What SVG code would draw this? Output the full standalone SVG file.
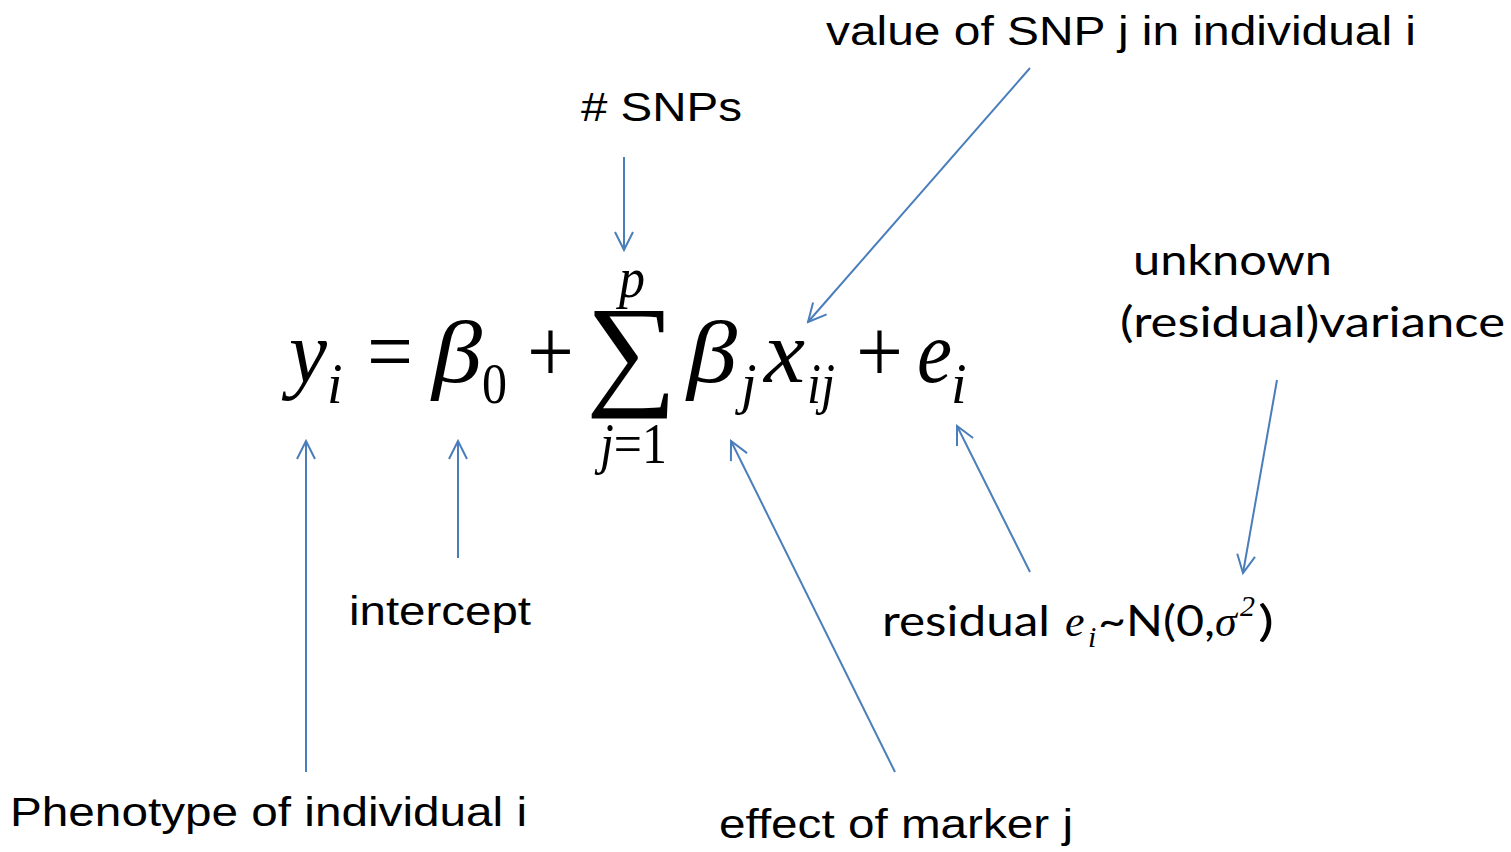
<svg xmlns="http://www.w3.org/2000/svg" width="1511" height="852" viewBox="0 0 1511 852">
<style>
.lbl{font-family:"Liberation Sans",Arial,sans-serif;font-size:40px;fill:#000}
.cal{font-family:Lato,"Open Sans",sans-serif;font-size:42px;fill:#000}
.m{font-family:"Liberation Serif","Times New Roman",serif;font-style:italic;fill:#000}
.u{font-family:"Liberation Serif","Times New Roman",serif;font-style:normal;fill:#000}
.conn line{stroke:#4a7ebb;stroke-width:2;fill:none;marker-end:url(#ah)}
</style>
<defs>
<marker id="ah" markerUnits="userSpaceOnUse" markerWidth="24" markerHeight="24" viewBox="-22 -12 24 24" refX="0" refY="0" orient="auto">
<path d="M-18,-9 L0,0 L-18,9" fill="none" stroke="#4a7ebb" stroke-width="2"/>
</marker>
</defs>
<rect width="1511" height="852" fill="#fff"/>
<g id="equation">
<text class="m" x="289" y="382" font-size="88" textLength="38" lengthAdjust="spacingAndGlyphs">y</text>
<text class="m" x="327" y="403" font-size="56">i</text>
<text class="u" x="367" y="382" font-size="90" textLength="46" lengthAdjust="spacingAndGlyphs">=</text>
<text class="m" x="432" y="382" font-size="88" textLength="50" lengthAdjust="spacingAndGlyphs">β</text>
<text class="u" x="482" y="403" font-size="56" textLength="25" lengthAdjust="spacingAndGlyphs">0</text>
<text class="u" x="527" y="382" font-size="90" textLength="47" lengthAdjust="spacingAndGlyphs">+</text>
<text class="u" x="586" y="392" font-size="124" textLength="91" lengthAdjust="spacingAndGlyphs">∑</text>
<text class="m" x="619" y="297" font-size="56" textLength="26" lengthAdjust="spacingAndGlyphs">p</text>
<text x="600" y="463" font-size="56" textLength="67" lengthAdjust="spacingAndGlyphs"><tspan class="m">j</tspan><tspan class="u">=1</tspan></text>
<text class="m" x="687" y="382" font-size="88" textLength="50" lengthAdjust="spacingAndGlyphs">β</text>
<text class="m" x="741" y="403" font-size="56">j</text>
<text class="m" x="764" y="382" font-size="88" textLength="41" lengthAdjust="spacingAndGlyphs">x</text>
<text class="m" x="807" y="403" font-size="56" textLength="28" lengthAdjust="spacingAndGlyphs">ij</text>
<text class="u" x="856" y="382" font-size="90" textLength="47" lengthAdjust="spacingAndGlyphs">+</text>
<text class="m" x="917" y="382" font-size="88" textLength="35" lengthAdjust="spacingAndGlyphs">e</text>
<text class="m" x="951" y="403" font-size="56">i</text>
</g>
<g id="n-snps"><text class="lbl" x="581" y="121" textLength="161" lengthAdjust="spacingAndGlyphs"># SNPs</text></g>
<g id="n-value"><text class="lbl" x="826" y="45" textLength="590" lengthAdjust="spacingAndGlyphs">value of SNP j in individual i</text></g>
<g id="n-phenotype"><text class="lbl" x="10" y="826" textLength="517" lengthAdjust="spacingAndGlyphs">Phenotype of individual i</text></g>
<g id="n-intercept"><text class="lbl" x="349" y="625" textLength="182" lengthAdjust="spacingAndGlyphs">intercept</text></g>
<g id="n-effect"><text class="lbl" x="719" y="838" textLength="354" lengthAdjust="spacingAndGlyphs">effect of marker j</text></g>
<g id="n-variance">
<text class="cal" x="1133" y="275" textLength="199" lengthAdjust="spacingAndGlyphs">unknown</text>
<text class="cal" x="1120" y="337" textLength="385" lengthAdjust="spacingAndGlyphs">(residual)variance</text>
</g>
<g id="n-residual">
<text class="cal" x="882" y="636" font-size="44" textLength="168" lengthAdjust="spacingAndGlyphs">residual</text>
<text class="m" x="1065" y="636" font-size="44">e</text>
<text class="m" x="1088" y="647" font-size="30">i</text>
<text class="cal" x="1098" y="636" font-size="44" textLength="117" lengthAdjust="spacingAndGlyphs">~N(0,</text>
<text class="m" x="1215" y="636" font-size="44">σ</text>
<text class="m" x="1240" y="616" font-size="30">2</text>
<text class="cal" x="1258" y="636" font-size="44" textLength="16" lengthAdjust="spacingAndGlyphs">)</text>
</g>
<g id="connectors" class="conn">
<line x1="624" y1="157" x2="624" y2="250"/>
<line x1="1030" y1="68" x2="808" y2="322"/>
<line x1="306" y1="772" x2="306" y2="441"/>
<line x1="458" y1="558" x2="458" y2="441"/>
<line x1="895" y1="772" x2="731" y2="441"/>
<line x1="1030" y1="572" x2="957" y2="426"/>
<line x1="1277" y1="380" x2="1243" y2="573"/>
</g>
</svg>
